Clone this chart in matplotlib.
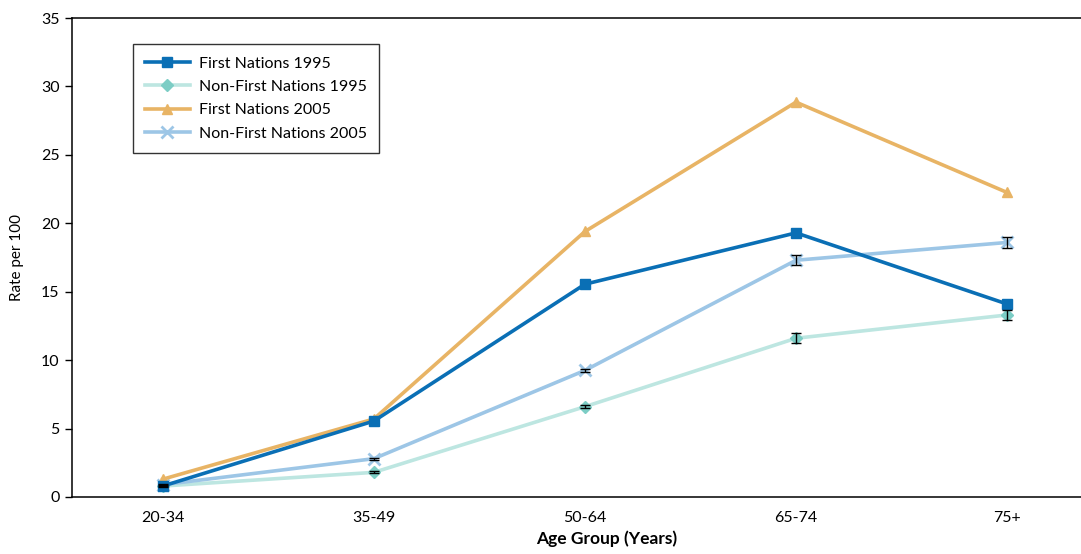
import numpy as np
import matplotlib.pyplot as plt

plt.rcParams['font.family'] = ['Lato', 'DejaVu Sans']

age_groups = ['20-34', '35-49', '50-64', '65-74', '75+']

fn_1995 = [0.8, 5.55, 15.55, 19.3, 14.1]
nfn_1995 = [0.8, 1.8, 6.6, 11.6, 13.3]
fn_2005 = [1.3, 5.7, 19.4, 28.85, 22.25]
nfn_2005 = [0.9, 2.8, 9.25, 17.3, 18.6]

# confidence interval half-widths (only the non-First Nations series are visible)
nfn_1995_err = [0.08, 0.08, 0.12, 0.35, 0.38]
nfn_2005_err = [0.08, 0.08, 0.12, 0.35, 0.38]

x = np.arange(len(age_groups))

fig = plt.figure(figsize=(10.81, 5.54), dpi=100)
ax = fig.add_axes([0.0666, 0.1029, 0.99, 0.8646])

lw = 2.6
l_nfn95, = ax.plot(x, nfn_1995, color='#bde6e1', lw=lw, marker='D', ms=6,
                   mfc='#7ccdc5', mec='#7ccdc5', zorder=2)
l_nfn05, = ax.plot(x, nfn_2005, color='#9dc6e6', lw=lw, marker='x', ms=8,
                   mew=2, mec='#9dc6e6', zorder=3)
l_fn05, = ax.plot(x, fn_2005, color='#e8b465', lw=lw, marker='^', ms=7,
                  mfc='#e8b465', mec='#e8b465', zorder=4)
l_fn95, = ax.plot(x, fn_1995, color='#0a6fb5', lw=lw, marker='s', ms=7,
                  mfc='#0a6fb5', mec='#0a6fb5', zorder=5)

ax.errorbar(x, nfn_1995, yerr=nfn_1995_err, fmt='none', ecolor='black',
            elinewidth=1, capsize=3.5, capthick=1, zorder=6)
ax.errorbar(x, nfn_2005, yerr=nfn_2005_err, fmt='none', ecolor='black',
            elinewidth=1, capsize=3.5, capthick=1, zorder=6)

ax.set_xlim(-0.43, 4.35 + (0.99 - 0.9334) / 0.9334 * 4.78)
ax.set_ylim(0, 35)
ax.set_yticks(np.arange(0, 36, 5))
ax.set_xticks(x)
ax.set_xticklabels(age_groups)
ax.tick_params(axis='x', length=0, labelsize=11.5, pad=10)
ax.tick_params(axis='y', length=5, width=1, labelsize=11.5, direction='out', pad=4)

for side in ['top', 'left', 'bottom']:
    ax.spines[side].set_linewidth(1.1)
    ax.spines[side].set_color('black')
ax.spines['right'].set_visible(False)

ax.set_ylabel('Rate per 100', fontsize=11, labelpad=12)
ax.set_xlabel('Age Group (Years)', fontsize=12.5, fontweight='bold', labelpad=4)

leg = ax.legend([l_fn95, l_nfn95, l_fn05, l_nfn05],
                ['First Nations 1995', 'Non-First Nations 1995',
                 'First Nations 2005', 'Non-First Nations 2005'],
                loc='upper left', bbox_to_anchor=(0.057, 0.945),
                fontsize=11.5, frameon=True, fancybox=False, borderpad=0.75,
                labelspacing=0.58, handlelength=2.8, handletextpad=0.6,
                borderaxespad=0)
leg.get_frame().set_edgecolor('black')
leg.get_frame().set_linewidth(1)

fig.savefig('out.png', dpi=100)
